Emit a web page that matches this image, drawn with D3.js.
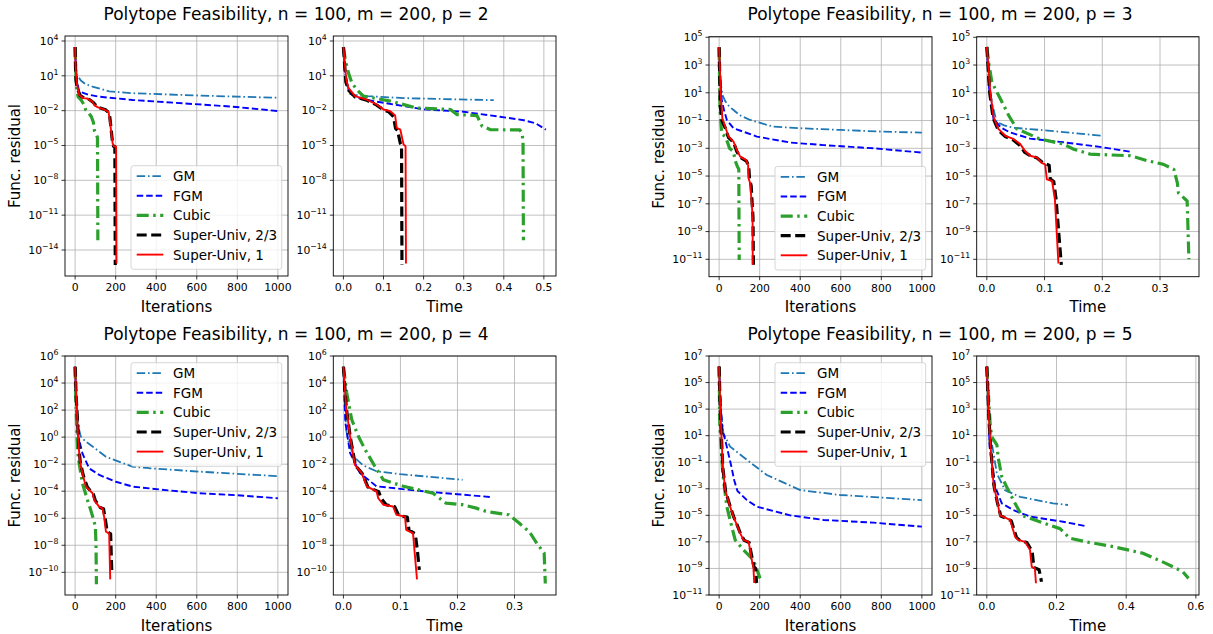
<!DOCTYPE html>
<html>
<head>
<meta charset="UTF-8">
<title>Polytope Feasibility</title>
<style>
  body { margin: 0; background: #fff; }
  svg text { font-family: 'DejaVu Sans', sans-serif; fill: #000; }
</style>
</head>
<body>
<svg id="fig" width="1213" height="634"></svg>
<script src="https://cdnjs.cloudflare.com/ajax/libs/d3/7.8.5/d3.min.js"></script>
<script>
// legend names, in drawing order
const methods = ["GM", "FGM", "Cubic", "Super-Univ, 2/3", "Super-Univ, 1"];

// ---- p = 2 ----
const p2IterGM    = [[0,3e3],[3,40],[10,12],[28,4],[50,2],[85,1.2],[168,0.45],[283,0.32],[450,0.25],[613,0.2],[800,0.16],[1000,0.13]];
const p2IterFGM   = [[0,3e3],[4,30],[10,3],[20,0.45],[60,0.25],[118,0.16],[283,0.083],[530,0.043],[778,0.022],[1000,0.0093]];
const p2IterCubic = [[0,3e3],[3,30],[8,0.5],[15,0.15],[30,0.08],[45,0.03],[52,0.012],[68,0.006],[80,0.003],[90,0.001],[95,2e-4],[105,8e-5],[110,5e-5],[111,1e-7],[112,7e-14]];
const p2IterSU23  = [[0,3e3],[2,50],[4,5],[10,0.9],[25,0.2],[45,0.12],[70,0.09],[90,0.05],[110,0.02],[150,0.012],[168,0.006],[172,0.002],[178,2e-4],[185,1.5e-5],[190,8e-6],[196,8e-6],[198,5e-16]];
const p2IterSU1   = [[0,3e3],[2,100],[5,8],[10,1.6],[20,0.22],[40,0.12],[60,0.11],[85,0.06],[95,0.03],[110,0.02],[150,0.011],[165,0.008],[168,0.003],[175,4e-4],[185,1.5e-5],[192,8e-6],[202,8e-6],[204,7e-16]];
const p2TimeGM    = [[0,3e3],[0.003,30],[0.008,2],[0.0125,0.35],[0.03,0.22],[0.058,0.18],[0.15,0.12],[0.25,0.1],[0.375,0.08]];
const p2TimeFGM   = [[0,3e3],[0.004,20],[0.015,0.3],[0.04,0.12],[0.075,0.066],[0.2,0.013],[0.3,0.008],[0.39,0.003],[0.45,0.0015],[0.48,8e-4],[0.505,2.3e-4]];
const p2TimeCubic = [[0,3e3],[0.005,200],[0.0125,18],[0.021,2.5],[0.033,0.66],[0.05,0.18],[0.117,0.066],[0.183,0.017],[0.267,0.0126],[0.283,0.0046],[0.333,0.0038],[0.346,4.6e-4],[0.367,2.3e-4],[0.44,2.2e-4],[0.446,1e-4],[0.448,1.7e-5],[0.449,7e-14]];
const p2TimeSU23  = [[0,3e3],[0.006,3],[0.0125,0.6],[0.029,0.15],[0.058,0.08],[0.083,0.03],[0.1,0.012],[0.113,0.008],[0.125,0.003],[0.13,3e-4],[0.135,2e-4],[0.142,1.5e-5],[0.145,1e-5],[0.146,5e-16]];
const p2TimeSU1   = [[0,3e3],[0.007,5],[0.0125,0.9],[0.029,0.18],[0.058,0.09],[0.083,0.034],[0.1,0.0126],[0.117,0.009],[0.129,0.0038],[0.133,3.3e-4],[0.142,2.3e-4],[0.15,1.2e-5],[0.155,8.5e-6],[0.156,7e-16]];

// ---- p = 3 ----
const p3IterGM    = [[0,1.6e4],[5,200],[10,30],[16,7],[30,2.5],[50,1],[71,0.58],[100,0.25],[153,0.11],[268,0.036],[400,0.028],[597,0.021],[800,0.016],[1000,0.0135]];
const p3IterFGM   = [[0,1.6e4],[5,100],[13,3],[25,0.5],[38,0.11],[71,0.028],[186,0.007],[350,0.0026],[515,0.0017],[761,0.001],[1000,4.9e-4]];
const p3IterCubic = [[0,1.6e4],[2,100],[4,1],[8,0.1],[13,0.011],[30,0.007],[41,0.0028],[51,0.001],[71,5.7e-4],[79,1.3e-4],[90,5e-5],[97,3e-5],[98,1e-8],[99,9e-12]];
const p3IterSU23  = [[0,2e4],[3,100],[6,1],[14,0.1],[30,0.03],[46,0.006],[71,0.0028],[87,6e-4],[104,2.3e-4],[135,1.2e-4],[146,5e-5],[150,6e-6],[158,2e-6],[163,1e-7],[167,1e-8],[169,4e-12]];
const p3IterSU1   = [[0,2e4],[4,300],[8,7],[16,0.14],[30,0.036],[46,0.007],[71,0.003],[87,7.6e-4],[104,2.5e-4],[133,1.4e-4],[143,6e-5],[145,7e-6],[153,3e-6],[161,1.1e-7],[165,1e-8],[166,4e-12]];
const p3TimeGM    = [[0,2e4],[0.003,100],[0.0087,2],[0.017,0.08],[0.03,0.045],[0.046,0.03],[0.1,0.02],[0.2,0.008]];
const p3TimeFGM   = [[0,2e4],[0.004,20],[0.0116,0.13],[0.025,0.03],[0.04,0.014],[0.075,0.005],[0.133,0.0027],[0.2,0.0012],[0.249,5.6e-4]];
const p3TimeCubic = [[0,2e4],[0.004,1000],[0.0087,60],[0.023,4],[0.038,0.23],[0.052,0.025],[0.092,0.0047],[0.133,0.002],[0.15,8.7e-4],[0.179,3.8e-4],[0.249,2.9e-4],[0.277,1.3e-4],[0.306,7e-5],[0.324,3e-5],[0.33,3.2e-6],[0.332,6e-7],[0.347,1.6e-7],[0.35,1e-11]];
const p3TimeSU23  = [[0,2e4],[0.005,10],[0.011,0.15],[0.02,0.02],[0.032,0.007],[0.046,0.004],[0.058,0.0015],[0.066,5e-4],[0.075,3e-4],[0.087,2e-4],[0.097,9e-5],[0.108,6e-5],[0.11,6e-6],[0.116,4e-6],[0.12,2e-7],[0.129,4e-12]];
const p3TimeSU1   = [[0,2e4],[0.006,12],[0.0116,0.18],[0.02,0.025],[0.032,0.008],[0.046,0.0047],[0.058,0.002],[0.066,6.6e-4],[0.075,2.9e-4],[0.087,2.1e-4],[0.095,9e-5],[0.101,7e-5],[0.104,5.7e-6],[0.113,4.4e-6],[0.118,2e-7],[0.124,5e-12]];

// ---- p = 4 ----
const p4IterGM    = [[0,1.6e5],[5,2000],[12,30],[20,3.4],[28,1.1],[50,0.5],[86,0.2],[152,0.035],[283,0.0065],[366,0.005],[613,0.0028],[800,0.0019],[1000,0.0013]];
const p4IterFGM   = [[0,1.6e5],[5,1000],[10,30],[16,1.1],[36,0.063],[69,0.0049],[119,0.0016],[201,5e-4],[283,2.2e-4],[448,1.2e-4],[613,7e-5],[800,5e-5],[1000,3e-5]];
const p4IterCubic = [[0,1.6e5],[3,1000],[7,10],[12,0.1],[20,0.011],[36,3.8e-4],[61,2.2e-5],[77,4e-6],[94,5.6e-7],[100,2e-7],[103,1e-8],[105,1.3e-11]];
const p4IterSU23  = [[0,1.6e5],[5,1000],[10,50],[17,0.4],[25,0.015],[40,0.0015],[60,2e-4],[90,6e-5],[100,2e-5],[125,6e-6],[140,5e-6],[148,1e-6],[158,1e-7],[175,7e-8],[178,2e-9],[181,8.5e-11]];
const p4IterSU1   = [[0,1.6e5],[5,1000],[8,180],[15,0.6],[23,0.02],[36,0.002],[53,2.2e-4],[86,7e-5],[94,2.2e-5],[119,7e-6],[135,5.4e-6],[143,1.3e-6],[152,1e-7],[168,7.6e-8],[170,2.5e-9],[173,3e-11]];
const p4TimeGM    = [[0,1.6e5],[0.002,1000],[0.0047,3.6],[0.01,0.3],[0.02,0.029],[0.035,0.008],[0.058,0.003],[0.1,0.0018],[0.209,7e-4]];
const p4TimeFGM   = [[0,1.6e5],[0.002,300],[0.0035,11],[0.0116,0.068],[0.029,0.0022],[0.058,2.3e-4],[0.14,9.8e-5],[0.2,6e-5],[0.262,3.6e-5]];
const p4TimeCubic = [[0,1.6e5],[0.0058,1900],[0.0145,20],[0.026,1.2],[0.038,0.12],[0.055,0.007],[0.07,7e-4],[0.105,2.3e-4],[0.157,7.2e-5],[0.18,1.3e-5],[0.209,1e-5],[0.233,5.6e-6],[0.25,3.2e-6],[0.29,1.8e-6],[0.308,4.4e-7],[0.326,1e-7],[0.337,1.9e-8],[0.352,2.6e-9],[0.354,1.5e-11]];
const p4TimeSU23  = [[0,1.6e5],[0.005,150],[0.012,1],[0.021,0.008],[0.033,0.002],[0.043,2e-4],[0.062,9e-5],[0.066,3e-5],[0.075,1e-5],[0.09,7e-6],[0.097,1.6e-6],[0.112,1.2e-6],[0.115,1.3e-7],[0.126,7e-8],[0.13,3e-9],[0.133,1.5e-10]];
const p4TimeSU1   = [[0,1.6e5],[0.0047,200],[0.0116,1.2],[0.02,0.009],[0.032,0.0022],[0.041,2.3e-4],[0.058,9.8e-5],[0.061,3.1e-5],[0.07,1e-5],[0.087,7.4e-6],[0.093,1.8e-6],[0.108,1.3e-6],[0.11,1.4e-7],[0.122,8e-8],[0.125,2.6e-9],[0.129,3e-11]];

// ---- p = 5 ----
const p5IterGM    = [[0,1.6e6],[8,1000],[21,15],[54,1.5],[137,0.15],[235,0.011],[400,8e-4],[597,3.4e-4],[800,2.2e-4],[1000,1.4e-4]];
const p5IterFGM   = [[0,1.6e6],[8,1000],[18,20],[30,4.7],[60,0.05],[75,0.004],[90,7e-4],[137,1.4e-4],[186,4.5e-5],[350,1e-5],[515,4.5e-6],[761,2.8e-6],[1000,1.4e-6]];
const p5IterCubic = [[0,1.6e6],[3,85],[10,1],[18,0.014],[38,4.5e-5],[54,4.5e-6],[79,1.4e-7],[120,2.5e-8],[169,4.3e-9],[202,1.8e-10]];
const p5IterSU23  = [[0,1.6e6],[5,1000],[10,20],[18,0.04],[32,6e-4],[56,4e-5],[73,7e-6],[90,1.7e-6],[106,4e-7],[124,1.3e-7],[148,9e-8],[156,2e-8],[165,4e-9],[172,1.3e-9],[180,1e-9],[184,1e-10],[186,8e-11]];
const p5IterSU1   = [[0,1.6e6],[5,1500],[10,30],[18,0.046],[30,8e-4],[54,4.5e-5],[71,8e-6],[87,1.9e-6],[104,4.4e-7],[120,1.4e-7],[145,1e-7],[153,2.5e-8],[161,4.3e-9],[169,1.3e-9],[173,8e-11]];
const p5TimeGM    = [[0,1.6e6],[0.004,1000],[0.0095,15],[0.029,0.014],[0.052,8e-4],[0.095,2.5e-4],[0.19,8e-5],[0.233,6e-5]];
const p5TimeFGM   = [[0,1.6e6],[0.004,1000],[0.008,1.5],[0.024,0.0014],[0.043,8e-5],[0.076,2.5e-5],[0.124,8e-6],[0.219,3.3e-6],[0.281,1.6e-6]];
const p5TimeCubic = [[0,1.6e6],[0.0095,85],[0.014,8.3],[0.029,2],[0.033,0.2],[0.043,0.008],[0.057,0.0014],[0.081,8e-5],[0.1,1e-5],[0.152,3.3e-6],[0.21,1e-6],[0.238,1.9e-7],[0.286,1e-7],[0.362,4.4e-8],[0.448,1.4e-8],[0.514,2.4e-9],[0.562,5.8e-10],[0.579,1.8e-10]];
const p5TimeSU23  = [[0,1.6e6],[0.005,1000],[0.01,3],[0.02,0.002],[0.03,1e-4],[0.04,9e-6],[0.07,4e-6],[0.085,2.2e-7],[0.095,1.3e-7],[0.115,9e-8],[0.13,2e-8],[0.135,1.2e-9],[0.15,8e-10],[0.157,1e-10]];
const p5TimeSU1   = [[0,1.6e6],[0.005,1000],[0.0095,4.7],[0.019,0.0026],[0.029,1.4e-4],[0.038,1e-5],[0.067,4.5e-6],[0.081,2.5e-7],[0.09,1.4e-7],[0.11,1e-7],[0.124,2.5e-8],[0.129,1.3e-9],[0.138,1e-9],[0.141,7.6e-11]];

// tick values
const iterTicks = [0, 200, 400, 600, 800, 1000];
const p2TimeTicks = [0, 0.1, 0.2, 0.3, 0.4, 0.5];
const p3TimeTicks = [0, 0.1, 0.2, 0.3];
const p4TimeTicks = [0, 0.1, 0.2, 0.3];
const p5TimeTicks = [0, 0.2, 0.4, 0.6];
const p2Exps = [4, 1, -2, -5, -8, -11, -14];
const p3Exps = [5, 3, 1, -1, -3, -5, -7, -9, -11];
const p4Exps = [6, 4, 2, 0, -2, -4, -6, -8, -10];
const p5Exps = [7, 5, 3, 1, -1, -3, -5, -7, -9, -11];

// line styles per method
const styles = [
  { color: "#1f77b4", width: 1.8, dash: "8.5,2.8,1.6,2.8" },
  { color: "#0000ff", width: 1.9, dash: "6.5,3" },
  { color: "#2ca02c", width: 3.2, dash: "12,4.5,2.5,4.5" },
  { color: "#000000", width: 3.2, dash: "10,4.5" },
  { color: "#ff0000", width: 1.9, dash: null }
];

const groups = [
  { p: 2, titleX: 296, titleY: 19.5, ylabX: 20,  yDom: [5.75e-17, 2.69e4], exps: p2Exps,
    panels: [
      { box: [65, 36, 223, 240], xDom: [-50, 1050], ticks: iterTicks, fmt: d3.format("d"), xlab: "Iterations", legend: "lower",
        series: [p2IterGM, p2IterFGM, p2IterCubic, p2IterSU23, p2IterSU1] },
      { box: [333.3, 36, 222.7, 240], xDom: [-0.02525, 0.53025], ticks: p2TimeTicks, fmt: d3.format(".1f"), xlab: "Time",
        series: [p2TimeGM, p2TimeFGM, p2TimeCubic, p2TimeSU23, p2TimeSU1] }
    ] },
  { p: 3, titleX: 940, titleY: 19.5, ylabX: 664, yDom: [5.6e-13, 1.1e5], exps: p3Exps,
    panels: [
      { box: [709, 36.7, 223, 240], xDom: [-50, 1050], ticks: iterTicks, fmt: d3.format("d"), xlab: "Iterations", legend: "lower",
        series: [p3IterGM, p3IterFGM, p3IterCubic, p3IterSU23, p3IterSU1] },
      { box: [976.7, 36.7, 222.3, 240], xDom: [-0.0175, 0.3675], ticks: p3TimeTicks, fmt: d3.format(".1f"), xlab: "Time",
        series: [p3TimeGM, p3TimeFGM, p3TimeCubic, p3TimeSU23, p3TimeSU1] }
    ] },
  { p: 4, titleX: 296, titleY: 340, ylabX: 20, yDom: [2.1e-12, 1e6], exps: p4Exps,
    panels: [
      { box: [65, 356, 223, 239], xDom: [-50, 1050], ticks: iterTicks, fmt: d3.format("d"), xlab: "Iterations", legend: "upper",
        series: [p4IterGM, p4IterFGM, p4IterCubic, p4IterSU23, p4IterSU1] },
      { box: [333.3, 356, 222.7, 239], xDom: [-0.01775, 0.37275], ticks: p4TimeTicks, fmt: d3.format(".1f"), xlab: "Time",
        series: [p4TimeGM, p4TimeFGM, p4TimeCubic, p4TimeSU23, p4TimeSU1] }
    ] },
  { p: 5, titleX: 940, titleY: 340, ylabX: 664, yDom: [1e-11, 1e7], exps: p5Exps,
    panels: [
      { box: [709, 356, 223, 239], xDom: [-50, 1050], ticks: iterTicks, fmt: d3.format("d"), xlab: "Iterations", legend: "upper",
        series: [p5IterGM, p5IterFGM, p5IterCubic, p5IterSU23, p5IterSU1] },
      { box: [976.7, 356, 222.3, 239], xDom: [-0.029, 0.609], ticks: p5TimeTicks, fmt: d3.format(".1f"), xlab: "Time",
        series: [p5TimeGM, p5TimeFGM, p5TimeCubic, p5TimeSU23, p5TimeSU1] }
    ] }
];

const svg = d3.select("#fig");
let clipId = 0;

function expLabel(sel, e) {
  sel.append("tspan").text("10");
  sel.append("tspan").attr("dy", -4.8).style("font-size", "7.8px")
    .text(e < 0 ? "\u2212" + (-e) : String(e));
}

groups.forEach(grp => {
  svg.append("text")
    .attr("x", grp.titleX).attr("y", grp.titleY)
    .attr("text-anchor", "middle")
    .style("font-size", "17px")
    .text(`Polytope Feasibility, n = 100, m = 200, p = ${grp.p}`);

  grp.panels.forEach((pn, pi) => {
    const [L, T, W, H] = pn.box;
    const x = d3.scaleLinear().domain(pn.xDom).range([0, W]);
    const y = d3.scaleLog().domain(grp.yDom).range([H, 0]);
    const g = svg.append("g").attr("transform", `translate(${L},${T})`);

    // grid
    g.selectAll(".gx").data(pn.ticks).enter().append("line")
      .attr("x1", d => x(d)).attr("x2", d => x(d)).attr("y1", 0).attr("y2", H)
      .attr("stroke", "#b0b0b0").attr("stroke-width", 0.8);
    g.selectAll(".gy").data(grp.exps).enter().append("line")
      .attr("x1", 0).attr("x2", W).attr("y1", d => y(Math.pow(10, d))).attr("y2", d => y(Math.pow(10, d)))
      .attr("stroke", "#b0b0b0").attr("stroke-width", 0.8);

    // clip
    const cid = "clip" + (clipId++);
    g.append("clipPath").attr("id", cid).append("rect").attr("width", W).attr("height", H);

    const line = d3.line().x(d => x(d[0])).y(d => y(d[1]));
    const plot = g.append("g").attr("clip-path", `url(#${cid})`);
    pn.series.forEach((s, i) => {
      const st = styles[i];
      plot.append("path").datum(s)
        .attr("d", line)
        .attr("fill", "none")
        .attr("stroke", st.color)
        .attr("stroke-width", st.width)
        .attr("stroke-dasharray", st.dash)
        .attr("stroke-linejoin", "round");
    });

    // frame
    g.append("rect").attr("width", W).attr("height", H)
      .attr("fill", "none").attr("stroke", "#000").attr("stroke-width", 0.9);

    // x ticks
    const xt = g.selectAll(".xt").data(pn.ticks).enter().append("g")
      .attr("transform", d => `translate(${x(d)},${H})`);
    xt.append("line").attr("y2", 3.5).attr("stroke", "#000").attr("stroke-width", 0.8);
    xt.append("text").attr("y", 15).attr("text-anchor", "middle")
      .style("font-size", "10.8px").text(d => pn.fmt(d));

    // y ticks
    const yt = g.selectAll(".yt").data(grp.exps).enter().append("g")
      .attr("transform", d => `translate(0,${y(Math.pow(10, d))})`);
    yt.append("line").attr("x2", -3.5).attr("stroke", "#000").attr("stroke-width", 0.8);
    yt.append("text").attr("x", -6.5).attr("y", 3.8).attr("text-anchor", "end")
      .style("font-size", "10.8px").each(function (d) { expLabel(d3.select(this), d); });

    // axis labels
    g.append("text").attr("x", W / 2).attr("y", H + 35.5).attr("text-anchor", "middle")
      .style("font-size", "15px").text(pn.xlab);
    if (pi === 0) {
      svg.append("text")
        .attr("transform", `translate(${grp.ylabX},${T + H / 2}) rotate(-90)`)
        .attr("text-anchor", "middle")
        .style("font-size", "15px").text("Func. residual");
    }

    // legend
    if (pn.legend) {
      const lw = 150.7, lh = 103.6;
      const lx = W - 6.3 - lw;
      const ly = pn.legend === "lower" ? H - 6.7 - lh : 6.7;
      const lg = g.append("g").attr("transform", `translate(${lx},${ly})`);
      lg.append("rect").attr("width", lw).attr("height", lh).attr("rx", 2.5)
        .attr("fill", "#fff").attr("fill-opacity", 0.8)
        .attr("stroke", "#cccccc").attr("stroke-width", 0.8);
      methods.forEach((m, i) => {
        const st = styles[i];
        const ry = 10.5 + i * 19.6;
        lg.append("line").attr("x1", 5.7).attr("x2", 32.3).attr("y1", ry).attr("y2", ry)
          .attr("stroke", st.color).attr("stroke-width", st.width)
          .attr("stroke-dasharray", st.dash);
        lg.append("text").attr("x", 42).attr("y", ry + 5)
          .style("font-size", "13.5px").text(m);
      });
    }
  });
});
</script>
</body>
</html>
